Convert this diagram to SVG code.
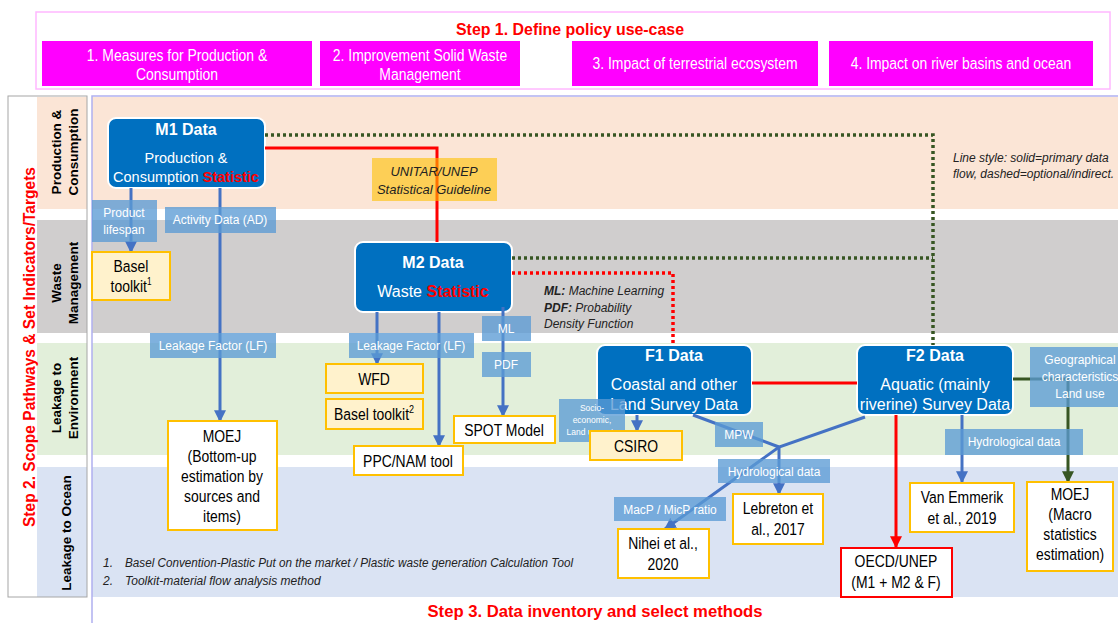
<svg xmlns="http://www.w3.org/2000/svg" width="1118" height="623" viewBox="0 0 1118 623">
<style>
text{font-family:"Liberation Sans",Arial,sans-serif;}
.step{fill:#FF0000;font-weight:bold;font-size:17px;}
.case{fill:#FFFFFF;font-size:17px;text-anchor:middle;}
.lane{fill:#000;font-weight:bold;font-size:13.5px;text-anchor:middle;}
.dnode{fill:#0070C0;stroke:#FFFFFF;stroke-width:2;}
.dt{fill:#FFFFFF;font-weight:bold;font-size:16px;text-anchor:middle;}
.dd{fill:#FFFFFF;font-size:16px;text-anchor:middle;}
.red{fill:#FF0000;font-weight:bold;}
.lbl{fill:#5B9BD5;fill-opacity:0.78;}
.lt{fill:#FFFFFF;font-size:12px;text-anchor:middle;}
.ybox{fill:#FFF2CC;stroke:#FFC000;stroke-width:2;}
.wbox{fill:#FFFFFF;stroke:#FFC000;stroke-width:2;}
.mt{fill:#000;font-size:17px;text-anchor:middle;}
.note{fill:#222;font-size:12px;font-style:italic;}
.cb{fill:none;stroke:#4472C4;stroke-width:3;}
.cr{fill:none;stroke:#FF0000;stroke-width:3;}
.cg{fill:none;stroke:#375623;stroke-width:3;}
.dg{fill:none;stroke:#375623;stroke-width:3.5;stroke-dasharray:3 3;}
.dr{fill:none;stroke:#FF0000;stroke-width:3.5;stroke-dasharray:3 3;}
</style>
<defs>
<marker id="ab" viewBox="0 0 10 10" refX="9" refY="5" markerWidth="4" markerHeight="4" orient="auto"><path d="M0,0 L10,5 L0,10 z" fill="#4472C4"/></marker>
<marker id="ar" viewBox="0 0 10 10" refX="9" refY="5" markerWidth="4" markerHeight="4" orient="auto"><path d="M0,0 L10,5 L0,10 z" fill="#FF0000"/></marker>
<marker id="ag" viewBox="0 0 10 10" refX="9" refY="5" markerWidth="4" markerHeight="4" orient="auto"><path d="M0,0 L10,5 L0,10 z" fill="#375623"/></marker>
</defs>
<rect width="1118" height="623" fill="#FFFFFF"/>

<!-- Step 1 header -->
<g id="step1">
<rect x="36" y="12" width="1074" height="77" fill="none" stroke="#FFB8FF" stroke-width="1.5"/>
<text class="step" x="570" y="35" text-anchor="middle" textLength="228" lengthAdjust="spacingAndGlyphs">Step 1. Define policy use-case</text>
</g>
<g id="case1"><rect x="42" y="41" width="270" height="45" fill="#FF00FF"/>
<g transform="matrix(0.82,0,0,1,31.86,0)"><text class="case" x="177" y="61">1. Measures for Production &amp;</text><text class="case" x="177" y="80">Consumption</text></g></g>
<g id="case2"><rect x="320" y="41" width="200" height="45" fill="#FF00FF"/>
<g transform="matrix(0.82,0,0,1,75.6,0)"><text class="case" x="420" y="61">2. Improvement Solid Waste</text><text class="case" x="420" y="80">Management</text></g></g>
<g id="case3"><rect x="572" y="41" width="246" height="45" fill="#FF00FF"/>
<g transform="matrix(0.82,0,0,1,125.1,0)"><text class="case" x="695" y="69">3. Impact of terrestrial ecosystem</text></g></g>
<g id="case4"><rect x="829" y="41" width="264" height="45" fill="#FF00FF"/>
<g transform="matrix(0.82,0,0,1,172.98,0)"><text class="case" x="961" y="69">4. Impact on river basins and ocean</text></g></g>

<!-- lanes -->
<g id="lanes">
<rect x="92" y="97" width="1026" height="112" fill="#FBE5D6"/>
<rect x="92" y="220" width="1026" height="113" fill="#D0CECE"/>
<rect x="92" y="343" width="1026" height="112" fill="#E2EFDA"/>
<rect x="92" y="467" width="1026" height="130" fill="#DAE3F3"/>
<rect x="37" y="97" width="50" height="112" fill="#FBE5D6"/>
<rect x="37" y="220" width="50" height="113" fill="#D0CECE"/>
<rect x="37" y="343" width="50" height="112" fill="#E2EFDA"/>
<rect x="37" y="467" width="50" height="130" fill="#DAE3F3"/>
<rect x="8" y="96" width="79" height="501" fill="none" stroke="#A6A6A6" stroke-width="1"/>
<path d="M92,623 V96 H1118" fill="none" stroke="#B0B0F0" stroke-width="1.5"/>
<text class="step" transform="translate(35,347) rotate(-90)" x="0" y="0" text-anchor="middle" textLength="360" lengthAdjust="spacingAndGlyphs">Step 2. Scope Pathways &amp; Set Indicators/Targets</text>
<text class="lane" transform="translate(61,152) rotate(-90)"><tspan x="0" y="0">Production &amp;</tspan><tspan x="0" y="17">Consumption</tspan></text>
<text class="lane" transform="translate(61,283) rotate(-90)"><tspan x="0" y="0">Waste</tspan><tspan x="0" y="17">Management</tspan></text>
<text class="lane" transform="translate(61,398) rotate(-90)"><tspan x="0" y="0">Leakage to</tspan><tspan x="0" y="17">Environment</tspan></text>
<text class="lane" transform="translate(71,533) rotate(-90)" x="0" y="0">Leakage to Ocean</text>
</g>

<!-- data nodes -->
<g id="M1"><rect class="dnode" x="108" y="118" width="157" height="70" rx="8"/>
<text class="dt" x="186" y="135">M1 Data</text>
<text class="dd" x="186" y="163" style="font-size:14.5px">Production &amp;</text>
<text class="dd" x="186" y="182" style="font-size:14.5px">Consumption <tspan class="red">Statistic</tspan></text></g>
<g id="M2"><rect class="dnode" x="355" y="242" width="157" height="70" rx="8"/>
<text class="dt" x="433" y="268">M2 Data</text>
<text class="dd" x="433" y="297">Waste <tspan class="red">Statistic</tspan></text></g>
<g id="F1"><rect class="dnode" x="597" y="345" width="155" height="70" rx="8"/>
<text class="dt" x="674" y="361">F1 Data</text>
<text class="dd" x="674" y="390">Coastal and other</text>
<text class="dd" x="674" y="410">Land Survey Data</text></g>
<g id="F2"><rect class="dnode" x="857" y="345" width="156" height="70" rx="8"/>
<text class="dt" x="935" y="361">F2 Data</text>
<text class="dd" x="935" y="390">Aquatic (mainly</text>
<text class="dd" x="935" y="410">riverine) Survey Data</text></g>

<!-- connectors -->
<g id="connectors">
<path class="cr" d="M265,148 H437 V242"/>
<path class="cr" d="M752,383 H857"/>
<path class="cr" d="M896,415 V547" marker-end="url(#ar)"/>
<path class="dg" d="M265,135 H933 V345"/>
<path class="dg" d="M512,258 H933"/>
<path class="dr" d="M512,273 H673 V345"/>
<path class="cb" d="M131,188 V252" marker-end="url(#ab)"/>
<path class="cb" d="M220,188 V421" marker-end="url(#ab)"/>
<path class="cb" d="M377,312 V364" marker-end="url(#ab)"/>
<path class="cb" d="M439,312 V446" marker-end="url(#ab)"/>
<path class="cb" d="M503,307 V416" marker-end="url(#ab)"/>
<path class="cb" d="M637,415 V431" marker-end="url(#ab)"/>
<path class="cb" d="M962,415 V482" marker-end="url(#ab)"/>
<path class="cb" d="M693,415 L779,447"/>
<path class="cb" d="M779,447 V494" marker-end="url(#ab)"/>
<path class="cb" d="M865,417 L779,447 L665,529" marker-end="url(#ab)"/>
<path class="cg" d="M1013,379 H1068 V482" marker-end="url(#ag)"/>
</g>

<!-- labels -->
<g id="lbl-lifespan"><rect class="lbl" x="92" y="200" width="65" height="42"/><text class="lt" x="124" y="217">Product</text><text class="lt" x="124" y="234">lifespan</text></g>
<g id="lbl-ad"><rect class="lbl" x="165" y="207" width="111" height="26"/><text class="lt" x="220" y="224">Activity Data (AD)</text></g>
<g id="lbl-lf1"><rect class="lbl" x="150" y="333" width="126" height="25"/><text class="lt" x="213" y="350">Leakage Factor (LF)</text></g>
<g id="lbl-lf2"><rect class="lbl" x="349" y="333" width="125" height="25"/><text class="lt" x="411" y="350">Leakage Factor (LF)</text></g>
<g id="lbl-ml"><rect class="lbl" x="482" y="316" width="49" height="25"/><text class="lt" x="506" y="333">ML</text></g>
<g id="lbl-pdf"><rect class="lbl" x="482" y="352" width="49" height="25"/><text class="lt" x="506" y="369">PDF</text></g>
<g id="lbl-socio"><rect class="lbl" x="559" y="399" width="66" height="43"/><text class="lt" x="592" y="411" style="font-size:8.5px">Socio-</text><text class="lt" x="592" y="423" style="font-size:8.5px">economic,</text><text class="lt" x="592" y="435" style="font-size:8.5px">Land use, etc</text></g>
<g id="lbl-mpw"><rect class="lbl" x="715" y="422" width="48" height="25"/><text class="lt" x="739" y="439">MPW</text></g>
<g id="lbl-hyd1"><rect class="lbl" x="718" y="459" width="112" height="24"/><text class="lt" x="774" y="476">Hydrological data</text></g>
<g id="lbl-macp"><rect class="lbl" x="614" y="497" width="112" height="24"/><text class="lt" x="670" y="514">MacP / MicP ratio</text></g>
<g id="lbl-hyd2"><rect class="lbl" x="945" y="429" width="138" height="26"/><text class="lt" x="1014" y="446">Hydrological data</text></g>
<g id="lbl-geo"><rect class="lbl" x="1030" y="347" width="88" height="60"/><text class="lt" x="1080" y="364">Geographical</text><text class="lt" x="1080" y="381">characteristics</text><text class="lt" x="1080" y="398">Land use</text></g>
<g id="lbl-unitar"><rect x="372" y="158" width="125" height="43" fill="#FFC000" fill-opacity="0.6"/><text x="434" y="176" style="font-size:13px;font-style:italic;text-anchor:middle;fill:#222">UNITAR/UNEP</text><text x="434" y="194" style="font-size:13px;font-style:italic;text-anchor:middle;fill:#222">Statistical Guideline</text></g>

<!-- method boxes -->
<g id="basel1"><rect class="ybox" x="92" y="252" width="78" height="48"/><g transform="matrix(0.82,0,0,1,23.58,0)"><text class="mt" x="131" y="272">Basel</text><text class="mt" x="131" y="292">toolkit<tspan dy="-7" style="font-size:10px">1</tspan></text></g></g>
<g id="wfd"><rect class="ybox" x="326" y="364" width="97" height="29"/><g transform="matrix(0.82,0,0,1,67.32,0)"><text class="mt" x="374" y="385">WFD</text></g></g>
<g id="basel2"><rect class="ybox" x="326" y="399" width="97" height="30"/><g transform="matrix(0.82,0,0,1,67.32,0)"><text class="mt" x="374" y="420">Basel toolkit<tspan dy="-7" style="font-size:11px">2</tspan></text></g></g>
<g id="csiro"><rect class="ybox" x="590" y="431" width="92" height="29"/><g transform="matrix(0.82,0,0,1,114.48,0)"><text class="mt" x="636" y="452">CSIRO</text></g></g>
<g id="moej1"><rect class="wbox" x="168" y="421" width="109" height="109"/><g transform="matrix(0.82,0,0,1,39.96,0)">
<text class="mt" x="222" y="442">MOEJ</text><text class="mt" x="222" y="462">(Bottom-up</text><text class="mt" x="222" y="482">estimation by</text><text class="mt" x="222" y="502">sources and</text><text class="mt" x="222" y="522">items)</text></g></g>
<g id="ppc"><rect class="wbox" x="354" y="446" width="109" height="29"/><g transform="matrix(0.82,0,0,1,73.44,0)"><text class="mt" x="408" y="467">PPC/NAM tool</text></g></g>
<g id="spot"><rect class="wbox" x="454" y="416" width="101" height="27"/><g transform="matrix(0.82,0,0,1,90.72,0)"><text class="mt" x="504" y="436">SPOT Model</text></g></g>
<g id="lebreton"><rect class="wbox" x="733" y="494" width="90" height="50"/><g transform="matrix(0.82,0,0,1,140.04,0)"><text class="mt" x="778" y="514">Lebreton et</text><text class="mt" x="778" y="535">al., 2017</text></g></g>
<g id="nihei"><rect class="wbox" x="618" y="529" width="91" height="49"/><g transform="matrix(0.82,0,0,1,119.34,0)"><text class="mt" x="663" y="549">Nihei et al.,</text><text class="mt" x="663" y="570">2020</text></g></g>
<g id="vanemmerik"><rect class="wbox" x="910" y="483" width="104" height="49"/><g transform="matrix(0.82,0,0,1,173.16,0)"><text class="mt" x="962" y="503">Van Emmerik</text><text class="mt" x="962" y="524">et al., 2019</text></g></g>
<g id="moej2"><rect class="wbox" x="1027" y="482" width="86" height="89"/><g transform="matrix(0.82,0,0,1,192.6,0)"><text class="mt" x="1070" y="500">MOEJ</text><text class="mt" x="1070" y="520">(Macro</text><text class="mt" x="1070" y="540">statistics</text><text class="mt" x="1070" y="560">estimation)</text></g></g>
<g id="oecd"><rect x="841" y="548" width="111" height="49" fill="#FFFFFF" stroke="#FF0000" stroke-width="2"/><g transform="matrix(0.82,0,0,1,161.28,0)"><text class="mt" x="896" y="567">OECD/UNEP</text><text class="mt" x="896" y="588">(M1 + M2 &amp; F)</text></g></g>

<!-- notes -->
<g id="notes">
<text class="note" x="544" y="295"><tspan font-weight="bold">ML:</tspan> Machine Learning</text>
<text class="note" x="544" y="312"><tspan font-weight="bold">PDF:</tspan> Probability</text>
<text class="note" x="544" y="328">Density Function</text>
<text class="note" x="953" y="162">Line style: solid=primary data</text>
<text class="note" x="953" y="178">flow, dashed=optional/indirect.</text>
<text class="note" x="103" y="567">1.</text>
<text class="note" x="125" y="567" textLength="448" lengthAdjust="spacingAndGlyphs">Basel Convention-Plastic Put on the market / Plastic waste generation Calculation Tool</text>
<text class="note" x="103" y="585">2.</text>
<text class="note" x="125" y="585">Toolkit-material flow analysis method</text>
</g>
<g id="step3"><text class="step" x="595" y="617" text-anchor="middle" textLength="335" lengthAdjust="spacingAndGlyphs">Step 3. Data inventory and select methods</text></g>
</svg>
